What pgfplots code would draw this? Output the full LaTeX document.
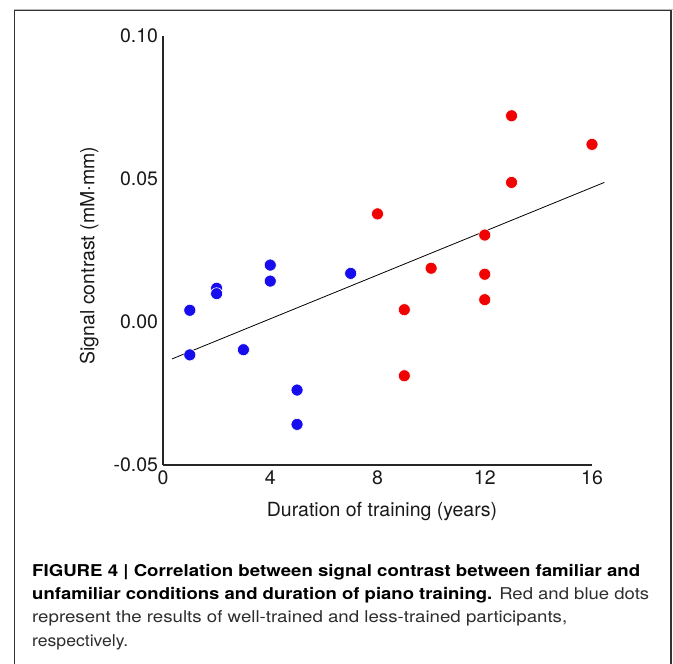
\documentclass[border=0pt]{standalone}
\usepackage{pgfplots}
\pgfplotsset{compat=1.18}
\usepackage{graphicx}
\usepackage{fontspec}
\setmainfont{TeX Gyre Heros}
\definecolor{dotblue}{RGB}{22,12,238}
\definecolor{dotred}{RGB}{240,2,2}
\definecolor{capgray}{RGB}{45,45,45}
\begin{document}
\begin{tikzpicture}[x=1pt,y=1pt]
\useasboundingbox (0,0) rectangle (673,664);
% frame
\draw[gray!55, line width=1pt] (14,654.8) -- (673,654.8);
\draw[black!80, line width=1.6pt] (14.6,-5) -- (14.6,653.3) -- (671,653.3) -- (671,-5);
\begin{axis}[
  at={(163pt,199pt)}, anchor=south west,
  scale only axis, width=429pt, height=429pt,
  xmin=0, xmax=16, ymin=-0.05, ymax=0.10,
  axis lines*=left,
  axis line style={black!85, line width=1.6pt},
  major tick length=0pt,
  xtick={0,4,8,12,16},
  xticklabels={0,4,8,12,16},
  ytick={-0.05,0,0.05,0.10},
  yticklabels={-0.05,0.00,0.05,0.10},
  /pgf/number format/assume math mode=true,
  ticklabel style={font=\fontsize{19.5}{23}\selectfont, text=black!90},
  yticklabel style={xshift=-1.5pt},
  xticklabel style={yshift=-2.5pt},
  clip=false,
]
\addplot[only marks, mark=*, mark size=6pt, mark options={fill=dotblue, draw=white, line width=0.6pt}]
coordinates {(1,0.0041) (1,-0.0115) (2,0.0118) (2,0.0099) (3,-0.0097) (4,0.0199) (4,0.0143) (5,-0.0238) (5,-0.0358) (7,0.0170)};
\addplot[only marks, mark=*, mark size=6pt, mark options={fill=dotred, draw=white, line width=0.6pt}]
coordinates {(8,0.0378) (9,0.0043) (9,-0.0188) (10,0.0188) (12,0.0304) (12,0.0167) (12,0.0078) (13,0.0721) (13,0.0488) (16,0.0621)};
\addplot[black, line width=0.8pt] coordinates {(0.34,-0.0129) (16.46,0.0488)};
\end{axis}
% axis labels
\node[anchor=base, font=\fontsize{19.5}{23}\selectfont, text=black!90] at (382,147.3) {Duration of training (years)};
\node[anchor=base, rotate=90, font=\fontsize{19.5}{23}\selectfont, text=black!90] at (94.3,408.5) {Signal contrast (mM$\cdot$mm)};
% caption
\begin{scope}[every node/.style={anchor=base west, inner sep=0pt, font=\fontsize{16.3}{20}\selectfont}]
\node at (32,87) {\resizebox{608pt}{\height}{\bfseries FIGURE 4 | Correlation between signal contrast between familiar and}};
\node at (32,64) {\resizebox{617pt}{\height}{{\bfseries unfamiliar conditions and duration of piano training.} \textcolor{capgray}{Red and blue dots}}};
\node at (32,41) {\resizebox{535pt}{\height}{\textcolor{capgray}{represent the results of well-trained and less-trained participants,}}};
\node at (32,17) {\resizebox{96pt}{\height}{\textcolor{capgray}{respectively.}}};
\end{scope}
\end{tikzpicture}
\end{document}
